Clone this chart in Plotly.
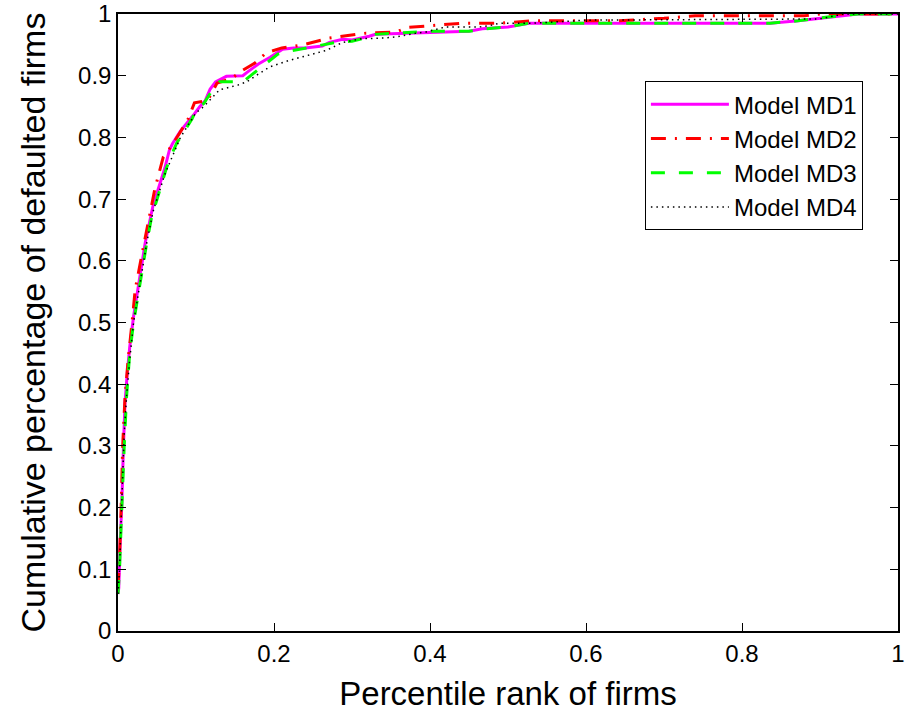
import plotly.graph_objects as go

# ---- data ----
md1_x = [0, 0.001, 0.003, 0.005, 0.007, 0.009, 0.012, 0.015, 0.02, 0.025, 0.03, 0.035, 0.04, 0.045, 0.05,
         0.055, 0.06, 0.066, 0.07, 0.08, 0.09, 0.096, 0.105, 0.112, 0.118, 0.125, 0.139, 0.16, 0.165, 0.18,
         0.195, 0.211, 0.225, 0.24, 0.262, 0.271, 0.288, 0.3, 0.322, 0.33, 0.4, 0.45, 0.467, 0.5, 0.527,
         0.836, 0.872, 0.91, 0.949, 1.0]
md1_y = [0.06, 0.07, 0.15, 0.21, 0.30, 0.37, 0.42, 0.46, 0.51, 0.55, 0.59, 0.63, 0.66, 0.69, 0.71,
         0.73, 0.75, 0.78, 0.79, 0.81, 0.825, 0.835, 0.85, 0.86, 0.878, 0.89, 0.899, 0.90, 0.905, 0.919,
         0.93, 0.943, 0.945, 0.945, 0.948, 0.954, 0.959, 0.958, 0.964, 0.967, 0.97, 0.972, 0.976, 0.979, 0.985,
         0.985, 0.989, 0.995, 1.0, 1.0]

md2_x = [0, 0.002, 0.004, 0.006, 0.009, 0.013, 0.018, 0.022, 0.03, 0.038, 0.047, 0.058, 0.068, 0.079,
         0.09, 0.098, 0.115, 0.127, 0.145, 0.16, 0.175, 0.19, 0.21, 0.237, 0.271, 0.318, 0.357, 0.37, 0.40,
         0.44, 0.49, 0.53, 0.64, 0.70, 0.74, 0.88, 0.90, 1.0]
md2_y = [0.07, 0.12, 0.20, 0.30, 0.38, 0.44, 0.50, 0.553, 0.606, 0.655, 0.715, 0.768, 0.785, 0.807,
         0.83, 0.856, 0.86, 0.888, 0.895, 0.909, 0.92, 0.937, 0.945, 0.95, 0.961, 0.969, 0.971, 0.978, 0.981,
         0.985, 0.985, 0.989, 0.989, 0.993, 0.997, 0.997, 1.0, 1.0]

md3_x = [0, 0.002, 0.004, 0.006, 0.008, 0.011, 0.015, 0.02, 0.025, 0.03, 0.037, 0.043, 0.05, 0.055,
         0.062, 0.068, 0.075, 0.085, 0.095, 0.10, 0.11, 0.12, 0.13, 0.16, 0.175, 0.19, 0.205, 0.22, 0.24,
         0.262, 0.28, 0.30, 0.32, 0.33, 0.40, 0.45, 0.47, 0.50, 0.527, 0.836, 0.872, 0.91, 0.949, 1.0]
md3_y = [0.06, 0.10, 0.17, 0.24, 0.30, 0.38, 0.45, 0.50, 0.54, 0.58, 0.63, 0.67, 0.70, 0.72,
         0.75, 0.77, 0.79, 0.81, 0.83, 0.845, 0.855, 0.875, 0.89, 0.89, 0.905, 0.92, 0.935, 0.94, 0.945,
         0.95, 0.954, 0.956, 0.962, 0.967, 0.972, 0.972, 0.976, 0.979, 0.985, 0.985, 0.989, 0.995, 1.0, 1.0]

md4_x = [0, 0.002, 0.004, 0.006, 0.008, 0.011, 0.015, 0.02, 0.025, 0.03, 0.037, 0.045, 0.05, 0.06,
         0.07, 0.08, 0.09, 0.10, 0.11, 0.122, 0.13, 0.154, 0.165, 0.178, 0.194, 0.22, 0.245, 0.267, 0.288,
         0.313, 0.341, 0.357, 0.382, 0.395, 0.42, 0.463, 0.476, 0.489, 0.531, 0.60, 0.90, 0.93, 1.0]
md4_y = [0.06, 0.10, 0.18, 0.26, 0.32, 0.38, 0.44, 0.50, 0.54, 0.58, 0.63, 0.68, 0.70, 0.74,
         0.77, 0.80, 0.82, 0.84, 0.85, 0.866, 0.877, 0.885, 0.89, 0.901, 0.914, 0.925, 0.933, 0.941, 0.954,
         0.96, 0.961, 0.963, 0.969, 0.971, 0.979, 0.979, 0.981, 0.985, 0.985, 0.99, 0.992, 1.0, 1.0]

series_names = ["Model MD1", "Model MD2", "Model MD3", "Model MD4"]
x_ticks = [0, 0.2, 0.4, 0.6, 0.8, 1]
y_ticks = [0, 0.1, 0.2, 0.3, 0.4, 0.5, 0.6, 0.7, 0.8, 0.9, 1]
x_label = "Percentile rank of firms"
y_label = "Cumulative percentage of defaulted firms"

FONT = "Liberation Sans, Arial, Helvetica, sans-serif"

fig = go.Figure()
fig.add_trace(go.Scatter(x=md1_x, y=md1_y, mode="lines", name=series_names[0],
                         line=dict(color="#ff00ff", width=3)))
fig.add_trace(go.Scatter(x=md2_x, y=md2_y, mode="lines", name=series_names[1],
                         line=dict(color="#ff0000", width=3, dash="15px,9px,2px,9px")))
fig.add_trace(go.Scatter(x=md3_x, y=md3_y, mode="lines", name=series_names[2],
                         line=dict(color="#00ff00", width=3, dash="14px,14px")))
fig.add_trace(go.Scatter(x=md4_x, y=md4_y, mode="lines", name=series_names[3],
                         line=dict(color="#000000", width=1.5, dash="1.5px,4px")))

axis_common = dict(
    showgrid=False, zeroline=False, showline=True, linecolor="black", linewidth=1.5,
    mirror="allticks", ticks="inside", ticklen=8, tickcolor="black", tickwidth=1,
    tickfont=dict(family=FONT, size=24, color="black"), automargin=False,
    ticklabeloverflow="allow",
)

fig.update_xaxes(range=[0, 1], tickvals=x_ticks, ticktext=[f"{v:g}" for v in x_ticks],
                 title=dict(text=x_label, font=dict(family=FONT, size=33, color="black"), standoff=16),
                 **axis_common)
fig.update_yaxes(range=[0, 1], tickvals=y_ticks, ticktext=[f"{v:g}" for v in y_ticks],
                 title=dict(text=y_label, font=dict(family=FONT, size=34, color="black"), standoff=22),
                 **axis_common)

fig.update_layout(
    width=905, height=715,
    margin=dict(l=118, r=7, t=14, b=84),
    plot_bgcolor="white", paper_bgcolor="white",
    font=dict(family=FONT, color="black"),
    legend=dict(x=0.955, y=0.891, xanchor="right", yanchor="top",
                bgcolor="white", bordercolor="black", borderwidth=1,
                font=dict(family=FONT, size=24, color="black"),
                tracegroupgap=0, itemwidth=78),
)

# remove the browser's default 8px page margin so the figure sits at the window's corner
fig.write_html("out.html",
               config={"displayModeBar": False},
               post_script="document.body.style.margin='0';document.body.style.overflow='hidden';")
